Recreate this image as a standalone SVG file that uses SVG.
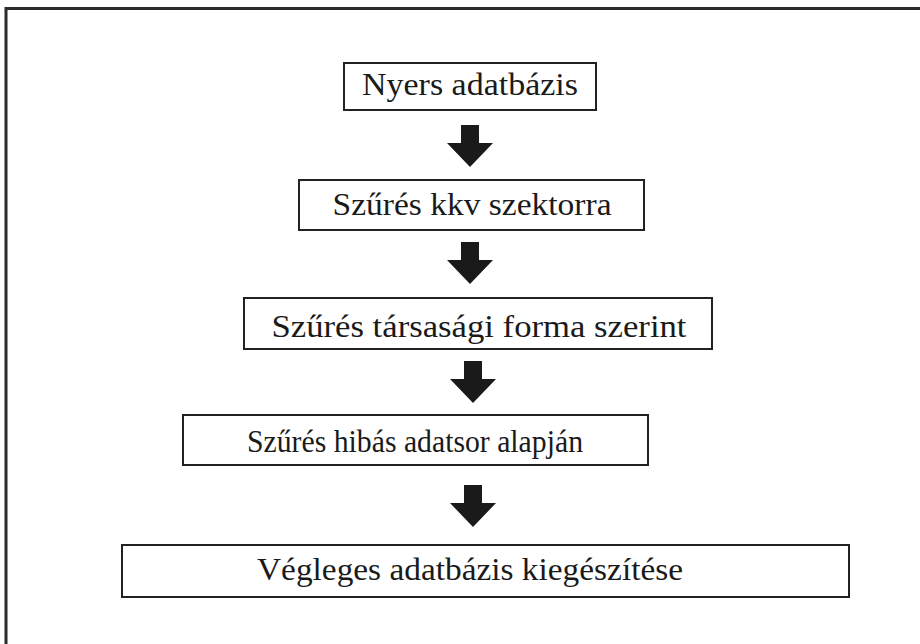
<svg xmlns="http://www.w3.org/2000/svg" width="920" height="644" viewBox="0 0 920 644">
  <defs>
    <!-- block arrow pointing down, origin at top centre of shaft -->
    <path id="down" d="M-9,0 H9 V18 H23 L0,42 L-23,18 H-9 Z"/>
  </defs>
  <style>
    .frame { fill: none; stroke: #2b2b2b; stroke-width: 3; }
    .box { fill: #ffffff; stroke: #222222; stroke-width: 2; }
    .lbl { font-family: "Liberation Serif", "Times New Roman", serif; font-size: 32px; fill: #1a1a1a; text-anchor: middle; }
    .arrow { fill: #1a1a1a; }
  </style>
  <rect width="920" height="644" fill="#ffffff"/>
  <rect class="frame" x="6" y="8.5" width="940" height="660"/>

  <g id="n1">
    <rect class="box" x="344" y="63" width="252" height="47"/>
    <text class="lbl" x="470" y="95" textLength="216" lengthAdjust="spacingAndGlyphs">Nyers adatbázis</text>
  </g>
  <g id="n2">
    <rect class="box" x="299" y="180" width="345" height="50"/>
    <text class="lbl" x="472" y="215" textLength="279" lengthAdjust="spacingAndGlyphs">Szűrés kkv szektorra</text>
  </g>
  <g id="n3">
    <rect class="box" x="244" y="298" width="468" height="51"/>
    <text class="lbl" x="479" y="337" textLength="415" lengthAdjust="spacingAndGlyphs">Szűrés társasági forma szerint</text>
  </g>
  <g id="n4">
    <rect class="box" x="183" y="415" width="465" height="50"/>
    <text class="lbl" x="415" y="452" textLength="336" lengthAdjust="spacingAndGlyphs">Szűrés hibás adatsor alapján</text>
  </g>
  <g id="n5">
    <rect class="box" x="122" y="545" width="727" height="52"/>
    <text class="lbl" x="470" y="580" textLength="426" lengthAdjust="spacingAndGlyphs">Végleges adatbázis kiegészítése</text>
  </g>

  <g id="connectors" class="arrow">
    <use href="#down" x="470" y="125"/>
    <use href="#down" x="470" y="242"/>
    <use href="#down" x="473" y="361"/>
    <use href="#down" x="473" y="485"/>
  </g>
</svg>
